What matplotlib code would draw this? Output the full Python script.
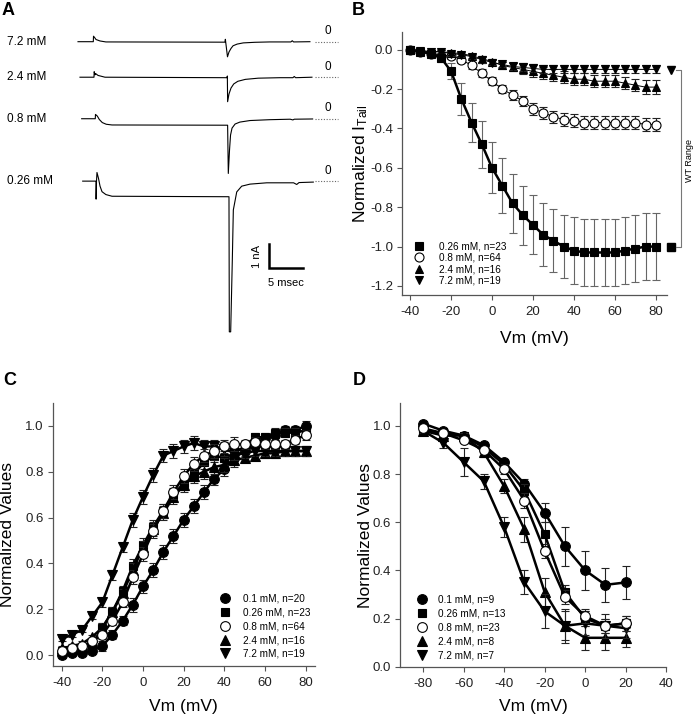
import matplotlib
matplotlib.use("Agg")
import matplotlib.pyplot as plt
from matplotlib.lines import Line2D

plt.rcParams["font.family"] = ["Liberation Sans", "DejaVu Sans"]
plt.rcParams["axes.unicode_minus"] = False
plt.rcParams["mathtext.default"] = "regular"

# ── Panel A: tail current traces (ms, nA relative to each baseline) ─────────
A_LABELS = ["7.2 mM", "2.4 mM", "0.8 mM", "0.26 mM"]
A_OFFSETS = [0.0, -1.48, -3.21, -5.81]
A_T = [
    [0, 2.25, 2.28, 2.45, 2.65, 3.24, 4.1, 21.6, 21.67, 21.72, 21.98, 22.2, 22.5,
     22.8, 23.4, 24.3, 26.0, 28.2, 31.3, 31.5, 31.7, 34.1],
    [0.29, 2.35, 2.38, 2.5, 2.6, 2.94, 3.97, 21.9, 21.96, 22.0, 22.2, 22.5, 22.9,
     23.5, 24.6, 26.5, 29.7, 31.6, 31.8, 32.0, 34.4],
    [0.54, 2.54, 2.57, 2.84, 3.13, 3.57, 4.15, 5.0, 22.0, 22.1, 22.28, 22.43, 22.65,
     23.1, 23.8, 25.3, 28.2, 31.2, 31.6, 31.8, 34.5],
    [0.69, 2.65, 2.66, 2.72, 2.79, 3.01, 3.24, 3.53, 4.1, 5.0, 22.2, 22.25, 22.45,
     22.69, 22.84, 23.34, 24.07, 25.29, 27.75, 31.7, 32.16, 32.5, 34.6],
]
A_I = [
    [0, 0, 0.23, 0.17, 0.09, 0.03, -0.01, -0.02, 0.1, -0.02, -0.63, -0.43, -0.28,
     -0.17, -0.10, -0.05, -0.025, -0.01, -0.01, 0.04, -0.01, 0.0],
    [0, 0, 0.23, 0.1, 0.15, 0.075, 0.0, -0.02, 0.05, -1.02, -0.70, -0.45, -0.28,
     -0.17, -0.09, -0.04, -0.02, -0.02, 0.03, -0.02, 0.0],
    [0, 0, 0.18, 0.11, -0.03, -0.16, -0.23, -0.26, -0.27, -2.28, -1.3, -0.68, -0.39,
     -0.22, -0.14, -0.075, -0.04, -0.02, -0.05, -0.02, -0.01],
    [0, 0, -0.75, 0.0, 0.36, 0.12, -0.21, -0.44, -0.56, -0.63, -0.65, -6.28, -6.28,
     -3.29, -1.2, -0.45, -0.21, -0.125, -0.07, -0.07, -0.14, -0.06, -0.04],
]

# ── Panel B: normalized tail current vs Vm ──────────────────────────────────
VM_B = [-40, -35, -30, -25, -20, -15, -10, -5, 0, 5, 10, 15, 20, 25, 30, 35, 40,
        45, 50, 55, 60, 65, 70, 75, 80]
B_026 = [0.0, -0.01, -0.02, -0.04, -0.11, -0.25, -0.37, -0.48, -0.60, -0.69, -0.78,
         -0.84, -0.89, -0.94, -0.97, -1.00, -1.02, -1.03, -1.03, -1.03, -1.03, -1.02,
         -1.01, -1.00, -1.00]
B_026_ERR = [0.01, 0.01, 0.01, 0.02, 0.04, 0.08, 0.10, 0.12, 0.13, 0.14, 0.15, 0.15,
             0.15, 0.16, 0.16, 0.16, 0.17, 0.17, 0.17, 0.17, 0.17, 0.17, 0.17, 0.17, 0.17]
B_08 = [0.0, -0.01, -0.02, -0.03, -0.03, -0.05, -0.08, -0.12, -0.16, -0.20, -0.23,
        -0.26, -0.30, -0.32, -0.34, -0.355, -0.36, -0.37, -0.37, -0.37, -0.37, -0.37,
        -0.37, -0.38, -0.38]
B_08_ERR = [0.005, 0.01, 0.01, 0.01, 0.015, 0.02, 0.02, 0.02, 0.02, 0.02, 0.025, 0.025,
            0.03, 0.03, 0.03, 0.035, 0.035, 0.035, 0.035, 0.035, 0.035, 0.035, 0.035,
            0.035, 0.035]
B_24 = [0.0, -0.005, -0.01, -0.01, -0.015, -0.02, -0.03, -0.045, -0.06, -0.08, -0.09,
        -0.10, -0.11, -0.12, -0.13, -0.14, -0.15, -0.15, -0.16, -0.16, -0.16, -0.17,
        -0.18, -0.19, -0.19]
B_24_ERR = [0.005, 0.01, 0.01, 0.01, 0.01, 0.01, 0.01, 0.015, 0.015, 0.02, 0.02, 0.025,
            0.03, 0.03, 0.03, 0.03, 0.03, 0.03, 0.03, 0.03, 0.03, 0.03, 0.03, 0.035, 0.035]
B_72 = [0.0, -0.005, -0.01, -0.01, -0.02, -0.025, -0.035, -0.05, -0.065, -0.075,
        -0.085, -0.09, -0.095, -0.10, -0.10, -0.10, -0.10, -0.10, -0.10, -0.10, -0.10,
        -0.10, -0.10, -0.10, -0.10]
B_72_ERR = [0.005, 0.005, 0.01, 0.01, 0.01, 0.01, 0.01, 0.015, 0.015, 0.015, 0.02, 0.02,
            0.02, 0.02, 0.02, 0.02, 0.02, 0.02, 0.02, 0.02, 0.02, 0.02, 0.02, 0.02, 0.02]
WT_VM = 87.5
WT_VALUES = [-0.105, -1.0]

# ── Panel C: normalized activation vs Vm ────────────────────────────────────
VM_C = VM_B
C_01 = [0.0, 0.01, 0.01, 0.02, 0.04, 0.09, 0.15, 0.22, 0.30, 0.37, 0.45, 0.52, 0.59,
        0.65, 0.71, 0.77, 0.81, 0.86, 0.89, 0.92, 0.945, 0.96, 0.98, 0.98, 1.00]
C_026 = [0.02, 0.02, 0.03, 0.05, 0.12, 0.19, 0.28, 0.39, 0.48, 0.56, 0.63, 0.70, 0.75,
         0.79, 0.84, 0.87, 0.86, 0.88, 0.91, 0.95, 0.95, 0.97, 0.97, 0.97, 0.98]
C_08 = [0.02, 0.03, 0.04, 0.06, 0.09, 0.15, 0.23, 0.34, 0.44, 0.54, 0.63, 0.71, 0.78,
        0.835, 0.87, 0.89, 0.91, 0.92, 0.92, 0.93, 0.92, 0.92, 0.92, 0.94, 0.96]
C_24 = [0.03, 0.04, 0.05, 0.08, 0.12, 0.19, 0.27, 0.37, 0.47, 0.55, 0.62, 0.69, 0.74,
        0.78, 0.80, 0.82, 0.83, 0.85, 0.86, 0.87, 0.88, 0.88, 0.89, 0.89, 0.89]
C_72 = [0.07, 0.09, 0.11, 0.17, 0.23, 0.35, 0.47, 0.59, 0.69, 0.785, 0.87, 0.89, 0.91,
        0.925, 0.91, 0.91, 0.90, 0.88, 0.88, 0.89, 0.89, 0.89, 0.89, 0.89, 0.89]
C_ERR = [0.01, 0.01, 0.01, 0.01, 0.02, 0.02, 0.02, 0.03, 0.03, 0.03, 0.03, 0.03, 0.03,
         0.03, 0.03, 0.03, 0.03, 0.03, 0.02, 0.02, 0.02, 0.02, 0.02, 0.02, 0.02]

# ── Panel D: normalized inactivation vs Vm ──────────────────────────────────
VM_D = [-80, -70, -60, -50, -40, -30, -20, -10, 0, 10, 20]
D_01 = [1.01, 0.98, 0.96, 0.92, 0.85, 0.76, 0.64, 0.50, 0.40, 0.34, 0.35]
D_01_ERR = [0.01, 0.01, 0.01, 0.01, 0.01, 0.02, 0.04, 0.08, 0.08, 0.07, 0.07]
D_026 = [0.98, 0.97, 0.96, 0.91, 0.84, 0.73, 0.55, 0.31, 0.20, 0.17, 0.18]
D_026_ERR = [0.01, 0.01, 0.01, 0.01, 0.02, 0.03, 0.05, 0.03, 0.03, 0.03, 0.03]
D_08 = [0.99, 0.97, 0.94, 0.90, 0.82, 0.69, 0.48, 0.29, 0.21, 0.17, 0.18]
D_08_ERR = [0.01, 0.01, 0.01, 0.01, 0.02, 0.03, 0.03, 0.03, 0.03, 0.03, 0.03]
D_24 = [0.98, 0.96, 0.96, 0.89, 0.75, 0.57, 0.31, 0.17, 0.12, 0.12, 0.12]
D_24_ERR = [0.01, 0.01, 0.01, 0.02, 0.03, 0.05, 0.06, 0.06, 0.05, 0.05, 0.04]
D_72 = [0.98, 0.93, 0.85, 0.77, 0.58, 0.35, 0.23, 0.17, 0.18, 0.17, 0.16]
D_72_ERR = [0.01, 0.02, 0.06, 0.03, 0.04, 0.05, 0.07, 0.07, 0.05, 0.05, 0.04]

FIG_W, FIG_H = 694, 720
fig = plt.figure(figsize=(FIG_W / 100, FIG_H / 100), dpi=100)


def px_axes(left, top, right, bottom):
    return fig.add_axes([left / FIG_W, 1 - bottom / FIG_H,
                         (right - left) / FIG_W, (bottom - top) / FIG_H])


def style_axes(ax):
    for s in ("top", "right"):
        ax.spines[s].set_visible(False)
    for s in ("left", "bottom"):
        ax.spines[s].set_color("#555555")
        ax.spines[s].set_linewidth(0.9)
    ax.tick_params(direction="out", length=3.5, width=0.8, color="#555555",
                   labelsize=9.5, labelcolor="#222222")
    ax.tick_params(axis="x", pad=4.5)
    ax.tick_params(axis="y", pad=3)


def series(ax, x, y, err, marker, filled=True, lw=1.8, ecolor="#222222", ms=6, z=3):
    ax.errorbar(x, y, yerr=err, marker=marker, ms=ms, color="black",
                mfc="black" if filled else "white", mec="black", mew=0.8,
                lw=lw, ecolor=ecolor, elinewidth=0.8, capsize=3, capthick=0.8,
                zorder=z, clip_on=False)


def legend_handle(marker, filled=True, ms=6):
    return Line2D([], [], ls="none", marker=marker, ms=ms, color="black",
                  mfc="black" if filled else "white", mec="black", mew=0.8)


# ── A ───────────────────────────────────────────────────────────────────────
axA = px_axes(0, 20, 345, 340)
axA.set_xlim(-11.47, 39.26)
axA.set_ylim(-12.43, 0.904)
axA.axis("off")
for lab, off, t, i in zip(A_LABELS, A_OFFSETS, A_T, A_I):
    axA.plot(t, [v + off for v in i], color="black", lw=0.8)
    axA.plot([34.85, 38.24], [off, off], color="#666666", lw=0.8, ls=(0, (1, 1.5)))
    axA.text(36.8, off + 0.43, "0", ha="center", va="center", fontsize=8.5)
    axA.text(-10.5, off, lab, ha="left", va="center", fontsize=8.5)
# scale bar: 5 msec x 1 nA
axA.plot([28.13, 28.13, 33.13], [-8.44, -9.44, -9.44], color="black", lw=1.8,
         solid_joinstyle="miter")
axA.text(26.3, -8.94, "1 nA", rotation=90, ha="center", va="center", fontsize=8)
axA.text(30.6, -10.05, "5 msec", ha="center", va="center", fontsize=8)

# ── B ───────────────────────────────────────────────────────────────────────
axB = px_axes(402, 32, 667, 295)
style_axes(axB)
series(axB, VM_B, B_08, B_08_ERR, "o", filled=False, lw=0.7, ms=6.5, z=3)
series(axB, VM_B, B_24, B_24_ERR, "^", lw=0.7, ms=6, z=4)
series(axB, VM_B, B_72, B_72_ERR, "v", lw=0.7, ms=6, z=5)
series(axB, VM_B, B_026, B_026_ERR, "s", lw=1.8, ecolor="#666666", ms=5.5, z=6)
axB.plot([WT_VM], [WT_VALUES[0]], "v", color="black", ms=6, clip_on=False)
axB.plot([WT_VM], [WT_VALUES[1]], "s", color="black", ms=5.5, clip_on=False)
br_x = WT_VM + 5
axB.plot([WT_VM + 2.5, br_x, br_x, WT_VM + 2.5],
         [WT_VALUES[0], WT_VALUES[0], WT_VALUES[1], WT_VALUES[1]],
         color="#777777", lw=0.8, clip_on=False)
axB.text(br_x + 3.9, (WT_VALUES[0] + WT_VALUES[1]) / 2 - 0.01, "WT Range",
         rotation=90, ha="center", va="center", fontsize=6.5)
axB.set_xlim(-44, 85.5)
axB.set_ylim(-1.246, 0.09)
axB.set_xticks([-40, -20, 0, 20, 40, 60, 80])
axB.set_yticks([0.0, -0.2, -0.4, -0.6, -0.8, -1.0, -1.2])
axB.set_yticklabels(["0.0", "-0.2", "-0.4", "-0.6", "-0.8", "-1.0", "-1.2"])
axB.set_xlabel("Vm (mV)", fontsize=12.5, va="center")
axB.set_ylabel("Normalized I$_{Tail}$", fontsize=12.5, va="center")
axB.xaxis.set_label_coords(0.5, -0.167)
axB.yaxis.set_label_coords(-0.157, 0.5)
axB.legend([legend_handle("s", ms=5.5), legend_handle("o", False, 6.5),
            legend_handle("^"), legend_handle("v")],
           ["0.26 mM, n=23", "0.8 mM, n=64", "2.4 mM, n=16", "7.2 mM, n=19"],
           loc="lower left", bbox_to_anchor=(0.045, 0.035), frameon=False,
           fontsize=7.2, borderpad=0, borderaxespad=0, handlelength=1.0,
           handletextpad=1.5, labelspacing=0.15)

# ── C ───────────────────────────────────────────────────────────────────────
axC = px_axes(52.7, 403.3, 315, 666)
style_axes(axC)
series(axC, VM_C, C_01, C_ERR, "o", ms=7, z=3)
series(axC, VM_C, C_026, C_ERR, "s", ms=6, z=4)
series(axC, VM_C, C_24, C_ERR, "^", ms=6.5, z=5)
series(axC, VM_C, C_72, C_ERR, "v", ms=6.5, z=6)
series(axC, VM_C, C_08, C_ERR, "o", filled=False, ms=7, z=7)
axC.set_xlim(-44.4, 84.6)
axC.set_ylim(-0.047, 1.098)
axC.set_xticks([-40, -20, 0, 20, 40, 60, 80])
axC.set_yticks([0.0, 0.2, 0.4, 0.6, 0.8, 1.0])
axC.set_yticklabels(["0.0", "0.2", "0.4", "0.6", "0.8", "1.0"])
axC.set_xlabel("Vm (mV)", fontsize=12.5, va="center")
axC.set_ylabel("Normalized Values", fontsize=12.5, va="center")
axC.xaxis.set_label_coords(0.5, -0.155)
axC.yaxis.set_label_coords(-0.172, 0.5)
axC.legend([legend_handle("o", ms=7), legend_handle("s"), legend_handle("o", False, 7),
            legend_handle("^", ms=6.5), legend_handle("v", ms=6.5)],
           ["0.1 mM, n=20", "0.26 mM, n=23", "0.8 mM, n=64", "2.4 mM, n=16",
            "7.2 mM, n=19"],
           loc="lower left", bbox_to_anchor=(0.636, 0.027), frameon=False,
           fontsize=7.2, borderpad=0, borderaxespad=0, handlelength=1.0,
           handletextpad=1.3, labelspacing=0.38)

# ── D ───────────────────────────────────────────────────────────────────────
axD = px_axes(400.3, 403.3, 666.3, 666.7)
style_axes(axD)
series(axD, VM_D, D_01, D_01_ERR, "o", ms=7, z=3)
series(axD, VM_D, D_026, D_026_ERR, "s", ms=6, z=4)
series(axD, VM_D, D_24, D_24_ERR, "^", ms=6.5, z=5)
series(axD, VM_D, D_72, D_72_ERR, "v", ms=6.5, z=6)
series(axD, VM_D, D_08, D_08_ERR, "o", filled=False, ms=7, z=7)
axD.set_xlim(-91.2, 40)
axD.set_ylim(0, 1.094)
axD.set_xticks([-80, -60, -40, -20, 0, 20, 40])
axD.set_yticks([0.0, 0.2, 0.4, 0.6, 0.8, 1.0])
axD.set_yticklabels(["0.0", "0.2", "0.4", "0.6", "0.8", "1.0"])
axD.set_xlabel("Vm (mV)", fontsize=12.5, va="center")
axD.set_ylabel("Normalized Values", fontsize=12.5, va="center")
axD.xaxis.set_label_coords(0.5, -0.152)
axD.yaxis.set_label_coords(-0.132, 0.5)
axD.legend([legend_handle("o", ms=7), legend_handle("s"), legend_handle("o", False, 7),
            legend_handle("^", ms=6.5), legend_handle("v", ms=6.5)],
           ["0.1 mM, n=9", "0.26 mM, n=13", "0.8 mM, n=23", "2.4 mM, n=8",
            "7.2 mM, n=7"],
           loc="lower left", bbox_to_anchor=(0.064, 0.025), frameon=False,
           fontsize=7.2, borderpad=0, borderaxespad=0, handlelength=1.0,
           handletextpad=1.1, labelspacing=0.38)

# panel letters
for letter, x, y in (("A", 2, 2), ("B", 352, 2), ("C", 3, 372), ("D", 353, 372)):
    fig.text(x / FIG_W, 1 - y / FIG_H, letter, fontsize=13, fontweight="bold",
             ha="left", va="top")

fig.savefig("out.png", dpi=100)
